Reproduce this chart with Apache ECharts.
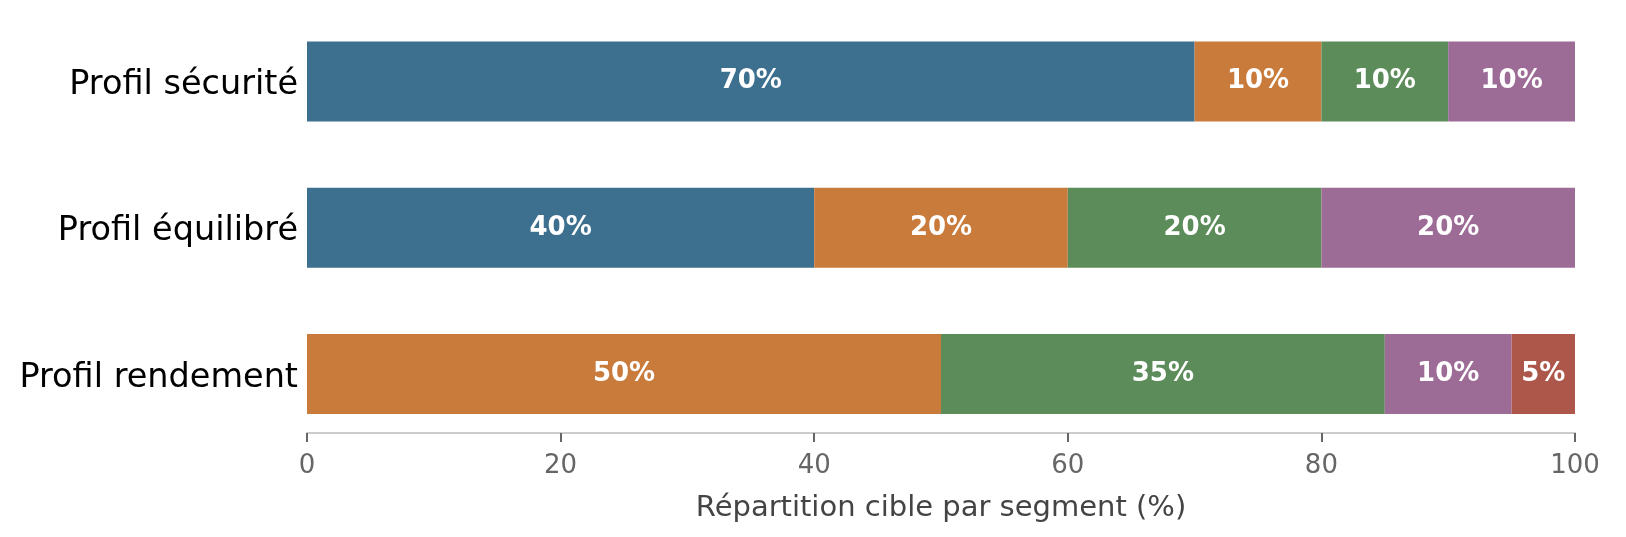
<!DOCTYPE html>
<html lang="fr">
<head>
    <meta charset="utf-8">
    <title>Répartition cible par profil</title>
    <script src="https://cdn.jsdelivr.net/npm/echarts@6/dist/echarts.min.js"></script>
    <style>
        html, body { margin: 0; padding: 0; background: #fff; }
        #chart { width: 1626px; height: 537px; }
    </style>
</head>
<body>
    <div id="chart"></div>
    <script>
        // Profils (de haut en bas)
        const profiles = ['Profil sécurité', 'Profil équilibré', 'Profil rendement'];

        // Part de chaque segment par profil (%)
        const segmentNames = ['Segment 1', 'Segment 2', 'Segment 3', 'Segment 4', 'Segment 5'];
        const segment1 = [70, 40, 0];
        const segment2 = [10, 20, 50];
        const segment3 = [10, 20, 35];
        const segment4 = [10, 20, 10];
        const segment5 = [0, 0, 5];

        const xTicks = [0, 20, 40, 60, 80, 100];
        const colors = ['#3d6f8f', '#c97b3c', '#5c8c5a', '#9c6b96', '#ad564a'];

        const font = 'DejaVu Sans';
        const chart = echarts.init(document.getElementById('chart'));

        const series = [segment1, segment2, segment3, segment4, segment5].map(function (values, i) {
            return {
                name: segmentNames[i],
                type: 'bar',
                stack: 'total',
                barWidth: 80,
                data: values,
                itemStyle: { color: colors[i] },
                label: {
                    show: true,
                    position: 'inside',
                    color: '#fff',
                    fontFamily: font,
                    fontWeight: 'bold',
                    fontSize: 26,
                    formatter: function (p) { return p.value > 0 ? p.value + '%' : ''; }
                }
            };
        });

        chart.setOption({
            animation: false,
            grid: { left: 307, right: 51, top: 8.5, bottom: 90 },
            xAxis: {
                type: 'value',
                min: xTicks[0],
                max: xTicks[xTicks.length - 1],
                interval: 20,
                offset: -14,
                name: 'Répartition cible par segment (%)',
                nameLocation: 'middle',
                nameGap: 61,
                nameTextStyle: { color: '#444', fontFamily: font, fontSize: 29 },
                axisLine: { show: true, lineStyle: { color: '#cccccc', width: 2 } },
                axisTick: { show: true, length: 9, lineStyle: { color: '#666', width: 2 } },
                axisLabel: { color: '#666', fontFamily: font, fontSize: 26, margin: 20 },
                splitLine: { show: false }
            },
            yAxis: {
                type: 'category',
                inverse: true,
                data: profiles,
                axisLine: { show: false },
                axisTick: { show: false },
                axisLabel: {
                    margin: 9,
                    formatter: function (v) { return '{p|' + v + '}'; },
                    rich: {
                        p: {
                            color: '#000', fontFamily: font, fontSize: 33.5,
                            padding: [8, 0, 0, 0]
                        }
                    }
                }
            },
            series: series
        });
    </script>
</body>
</html>
